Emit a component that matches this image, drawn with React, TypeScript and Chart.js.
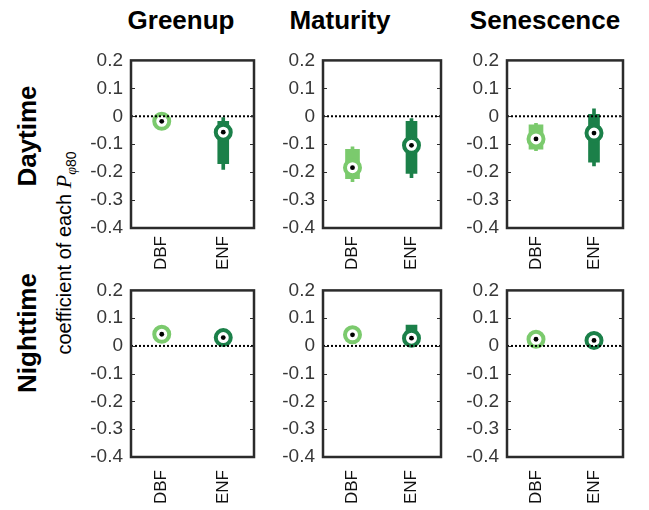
import React, { useEffect, useRef } from 'react';
import { Chart, registerables } from 'chart.js';

Chart.register(...registerables);

// ---------------- data ----------------
const phases = ['Greenup', 'Maturity', 'Senescence'];
const periods = ['Daytime', 'Nighttime'];
const forestTypes = ['DBF', 'ENF'];
const typeColors = ['#7bca6d', '#1b8049'];
const yMin = -0.4;
const yMax = 0.2;
const yStep = 0.1;

// each row: [Greenup, Maturity, Senescence]; each cell: [DBF, ENF]
const dayMedian = [[-0.018, -0.057], [-0.184, -0.104], [-0.081, -0.06]];
const dayQ1 = [[null, -0.17], [-0.223, -0.205], [-0.118, -0.164]];
const dayQ3 = [[null, -0.018], [-0.118, -0.018], [-0.031, 0.007]];
const dayLow = [[null, -0.19], [-0.234, -0.22], [-0.123, -0.178]];
const dayHigh = [[null, -0.005], [-0.109, -0.008], [-0.025, 0.027]];

const nightMedian = [[0.042, 0.03], [0.04, 0.028], [0.024, 0.02]];
const nightQ1 = [[null, null], [null, 0.005], [null, null]];
const nightQ3 = [[null, null], [null, 0.075], [null, null]];
const nightLow = [[null, null], [null, null], [null, null]];
const nightHigh = [[null, null], [null, null], [null, null]];

// ---------------- layout ----------------
const FONT = "'Liberation Sans', Arial, Helvetica, sans-serif";
const SERIF = "'Liberation Serif', 'DejaVu Serif', serif";
const Y_W = 60;
const X_H = 60;
const PAD_T = 14;
const PAD_R = 12;
const colLeft = [131, 323, 507];
const colWidth = [123, 118, 116];
const rowTop = [55, 285];
const rowHeight = [173, 172];
const xLabelPad = [8, 13];
const boxWidths = [14, 11];

const pair = (lo: number | null, hi: number | null) =>
  lo === null || hi === null ? null : [lo, hi];

const fmt = (v: number) => {
  const n = Number(Number(v).toFixed(1));
  return (n === 0 ? 0 : n).toString();
};

const framePlugin = {
  id: 'matlabFrame',
  afterDatasetsDraw(chart: any) {
    const { ctx, chartArea: a, scales } = chart;
    const y0 = scales.y.getPixelForValue(0);
    ctx.save();
    ctx.strokeStyle = '#000';
    ctx.lineWidth = 2;
    ctx.setLineDash([2, 2]);
    ctx.beginPath();
    ctx.moveTo(a.left, y0);
    ctx.lineTo(a.right, y0);
    ctx.stroke();
    ctx.restore();
  },
  afterDraw(chart: any) {
    const { ctx, chartArea: a, scales } = chart;
    ctx.save();
    ctx.strokeStyle = '#2b2b2b';
    ctx.lineWidth = 2.5;
    ctx.strokeRect(a.left, a.top, a.right - a.left, a.bottom - a.top);
    ctx.lineWidth = 1.2;
    scales.y.ticks.forEach((t: any) => {
      const py = Math.round(scales.y.getPixelForValue(t.value)) + 0.5;
      ctx.beginPath();
      ctx.moveTo(a.left, py);
      ctx.lineTo(a.left + 4, py);
      ctx.moveTo(a.right, py);
      ctx.lineTo(a.right - 4, py);
      ctx.stroke();
    });
    ctx.restore();
  },
};

function Panel({ row, col }: { row: number; col: number }) {
  const ref = useRef<HTMLCanvasElement>(null);
  const med = row === 0 ? dayMedian[col] : nightMedian[col];
  const q1 = row === 0 ? dayQ1[col] : nightQ1[col];
  const q3 = row === 0 ? dayQ3[col] : nightQ3[col];
  const lo = row === 0 ? dayLow[col] : nightLow[col];
  const hi = row === 0 ? dayHigh[col] : nightHigh[col];
  const w = Y_W + colWidth[col] + PAD_R;
  const h = PAD_T + rowHeight[row] + X_H;

  useEffect(() => {
    if (!ref.current) return;
    const boxSets = forestTypes.map((_, t) => ({
      type: 'bar',
      data: forestTypes.map((__, i) => (i === t ? pair(q1[i], q3[i]) : null)),
      backgroundColor: typeColors[t],
      barThickness: boxWidths[t],
      grouped: false,
      borderWidth: 0,
      order: 2,
    }));
    const chart = new Chart(ref.current, {
      type: 'bar',
      data: {
        labels: forestTypes,
        datasets: [
          {
            type: 'bar',
            data: forestTypes.map((_, i) => pair(lo[i], hi[i])) as any,
            backgroundColor: typeColors,
            barThickness: 3,
            grouped: false,
            borderWidth: 0,
            order: 3,
          },
          ...boxSets,
          {
            type: 'line',
            data: med as any,
            showLine: false,
            pointRadius: 7.5,
            pointBorderWidth: 4,
            pointBackgroundColor: '#ffffff',
            pointBorderColor: typeColors,
            order: 1,
          },
          {
            type: 'line',
            data: med as any,
            showLine: false,
            pointRadius: 2.4,
            pointBorderWidth: 0,
            pointBackgroundColor: '#000000',
            order: 0,
          },
        ] as any,
      },
      options: {
        responsive: false,
        animation: false,
        events: [],
        layout: { autoPadding: false, padding: { left: 0, top: PAD_T, right: PAD_R, bottom: 0 } },
        plugins: { legend: { display: false }, tooltip: { enabled: false } },
        scales: {
          x: {
            grid: { display: false, drawTicks: false },
            border: { display: false },
            ticks: {
              minRotation: 90,
              maxRotation: 90,
              padding: xLabelPad[row],
              color: '#111',
              font: { family: FONT, size: 17 },
            },
            afterFit: (s: any) => {
              s.height = X_H;
            },
          },
          y: {
            min: yMin,
            max: yMax,
            grid: { display: false, drawTicks: false },
            border: { display: false },
            ticks: {
              stepSize: yStep,
              padding: 8,
              color: '#383838',
              font: { family: FONT, size: 19 },
              callback: (v: any) => fmt(v),
            },
            afterFit: (s: any) => {
              s.width = Y_W;
            },
          },
        },
      } as any,
      plugins: [framePlugin],
    });
    return () => chart.destroy();
  }, []);

  return (
    <canvas
      ref={ref}
      width={w}
      height={h}
      style={{
        position: 'absolute',
        left: colLeft[col] - Y_W,
        top: rowTop[row] - PAD_T,
        width: w,
        height: h,
      }}
    />
  );
}

const titleCenters = [181, 340, 545];
const rowLabelCenters = [136, 333];

export default function App() {
  useEffect(() => {
    document.body.style.margin = '0';
  }, []);
  return (
    <div
      style={{
        position: 'relative',
        width: 649,
        height: 510,
        background: '#fff',
        fontFamily: FONT,
        overflow: 'hidden',
      }}
    >
      {phases.map((p, i) => (
        <div
          key={p}
          style={{
            position: 'absolute',
            left: titleCenters[i],
            top: 7,
            transform: 'translateX(-50%)',
            fontSize: 26,
            lineHeight: '26px',
            fontWeight: 'bold',
            color: '#000',
            whiteSpace: 'nowrap',
          }}
        >
          {p}
        </div>
      ))}
      {periods.map((p, i) => (
        <div
          key={p}
          style={{
            position: 'absolute',
            left: 27,
            top: rowLabelCenters[i],
            transform: 'translate(-50%, -50%) rotate(-90deg)',
            fontSize: 26,
            lineHeight: '26px',
            fontWeight: 'bold',
            color: '#000',
            whiteSpace: 'nowrap',
          }}
        >
          {p}
        </div>
      ))}
      <div
        style={{
          position: 'absolute',
          left: 64,
          top: 253,
          transform: 'translate(-50%, -50%) rotate(-90deg)',
          fontSize: 20,
          lineHeight: '22px',
          color: '#000',
          whiteSpace: 'nowrap',
        }}
      >
        coefficient of each{' '}
        <i style={{ fontFamily: SERIF, fontSize: 22 }}>P</i>
        <sub style={{ fontSize: 14, lineHeight: 0 }}>
          <i style={{ fontFamily: SERIF }}>φ</i>80
        </sub>
      </div>
      {periods.map((_, r) => phases.map((__, c) => <Panel key={`${r}-${c}`} row={r} col={c} />))}
    </div>
  );
}
